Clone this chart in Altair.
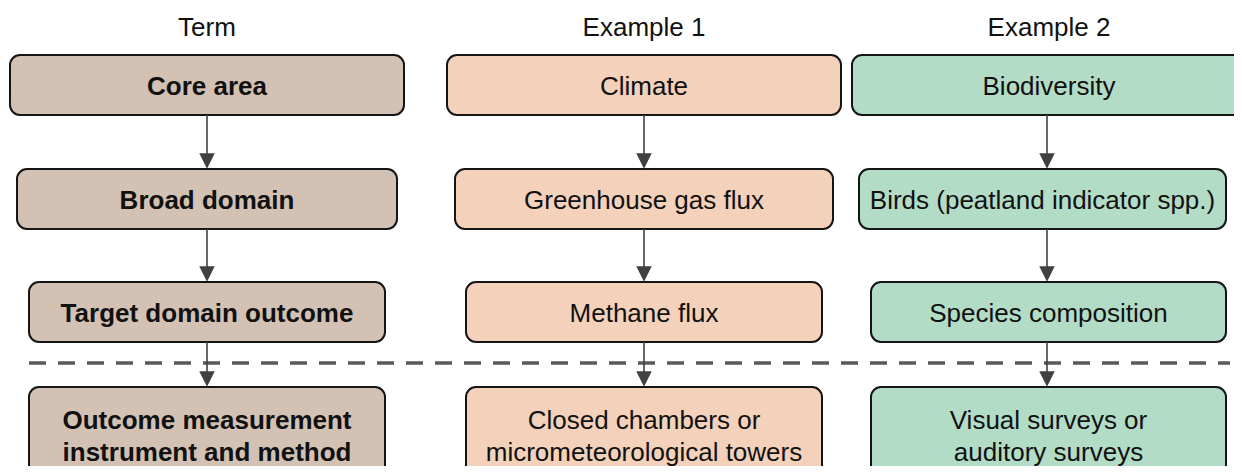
import altair as alt
import pandas as pd

# ---- content ----
headers = ["Term", "Example 1", "Example 2"]
term_labels = ["Core area", "Broad domain", "Target domain outcome",
               "Outcome measurement\ninstrument and method"]
ex1_labels = ["Climate", "Greenhouse gas flux", "Methane flux",
              "Closed chambers or\nmicrometeorological towers"]
ex2_labels = ["Biodiversity", "Birds (peatland indicator spp.)", "Species composition",
              "Visual surveys or\nauditory surveys"]
labels = [term_labels, ex1_labels, ex2_labels]
bold_column = [True, False, False]

# ---- layout (pixel space of the 1242x474 page) ----
header_x = [207, 644, 1049]
header_baseline = 36
arrow_x = [207, 644, 1047]
row_top = [55, 169, 282, 387]
row_bottom = [115, 229, 342, 495]
row_baseline = [95, 209, 322, 429]
line_gap = 32
box_x0 = [[10, 17, 29, 29], [447, 455, 466, 466], [852, 859, 871, 871]]
box_x1 = [[404, 397, 385, 385], [841, 833, 822, 822], [1246, 1226, 1226, 1226]]
dash_x = [29, 1230]
dash_y = 363

fills = ["#d3c2b4", "#f4d1ba", "#b3dcc7"]
FONT = "Liberation Sans"
FS = 26

# ---- tables ----
boxes, texts, arrows = [], [], []
for c in range(3):
    texts.append(dict(x=header_x[c], y=header_baseline, t=headers[c], w="normal"))
    for r in range(4):
        x0, x1 = box_x0[c][r], box_x1[c][r]
        boxes.append(dict(x0=x0, x1=x1, y0=row_top[r], y1=row_bottom[r], g=headers[c]))
        cx = (x0 + x1) / 2
        if c == 2 and r == 0:
            cx = 1049
        for i, line in enumerate(labels[c][r].split("\n")):
            texts.append(dict(x=cx, y=row_baseline[r] + i * line_gap, t=line,
                              w="bold" if bold_column[c] else "normal"))
        if r < 3:
            arrows.append(dict(x=arrow_x[c], ys=row_bottom[r], ye=row_top[r + 1] - 8,
                               yh=row_top[r + 1] - 8))

bdf = pd.DataFrame(boxes)
tdf = pd.DataFrame(texts)
adf = pd.DataFrame(arrows)
ddf = pd.DataFrame([dict(x0=dash_x[0], x1=dash_x[1], y=dash_y)])

xs = alt.Scale(domain=[8, 1234], nice=False, zero=False)
ys = alt.Scale(domain=[8, 466], reverse=True, nice=False, zero=False)

rects = alt.Chart(bdf).mark_rect(cornerRadius=10, stroke="#151515", strokeWidth=2).encode(
    x=alt.X("x0:Q", scale=xs, axis=None), x2="x1:Q",
    y=alt.Y("y0:Q", scale=ys, axis=None), y2="y1:Q",
    fill=alt.Fill("g:N", scale=alt.Scale(domain=headers, range=fills), legend=None),
)

dash = alt.Chart(ddf).mark_rule(strokeDash=[17, 12], strokeWidth=3.5, color="#5a5a5a").encode(
    x=alt.X("x0:Q", scale=xs, axis=None), x2="x1:Q",
    y=alt.Y("y:Q", scale=ys, axis=None),
)

shafts = alt.Chart(adf).mark_rule(strokeWidth=1.6, color="#404040").encode(
    x=alt.X("x:Q", scale=xs, axis=None),
    y=alt.Y("ys:Q", scale=ys, axis=None), y2="ye:Q",
)

heads = alt.Chart(adf).mark_point(shape="M-1,-1L1,-1L0,1Z", filled=True, size=240,
                                   opacity=1, color="#404040").encode(
    x=alt.X("x:Q", scale=xs, axis=None),
    y=alt.Y("yh:Q", scale=ys, axis=None),
)


def text_layer(weight):
    return alt.Chart(tdf[tdf["w"] == weight]).mark_text(
        font=FONT, fontSize=FS, color="#111111", fontWeight=weight,
        baseline="alphabetic", align="center").encode(
        x=alt.X("x:Q", scale=xs, axis=None),
        y=alt.Y("y:Q", scale=ys, axis=None),
        text="t:N",
    )


chart = alt.layer(rects, dash, shafts, heads, text_layer("normal"), text_layer("bold")).properties(
    width=1226, height=458, padding=0,
    autosize=alt.AutoSizeParams(type="none"),
    background="white",
).configure_view(stroke=None)

chart.save("out.html", embed_options={"renderer": "svg", "actions": False})
